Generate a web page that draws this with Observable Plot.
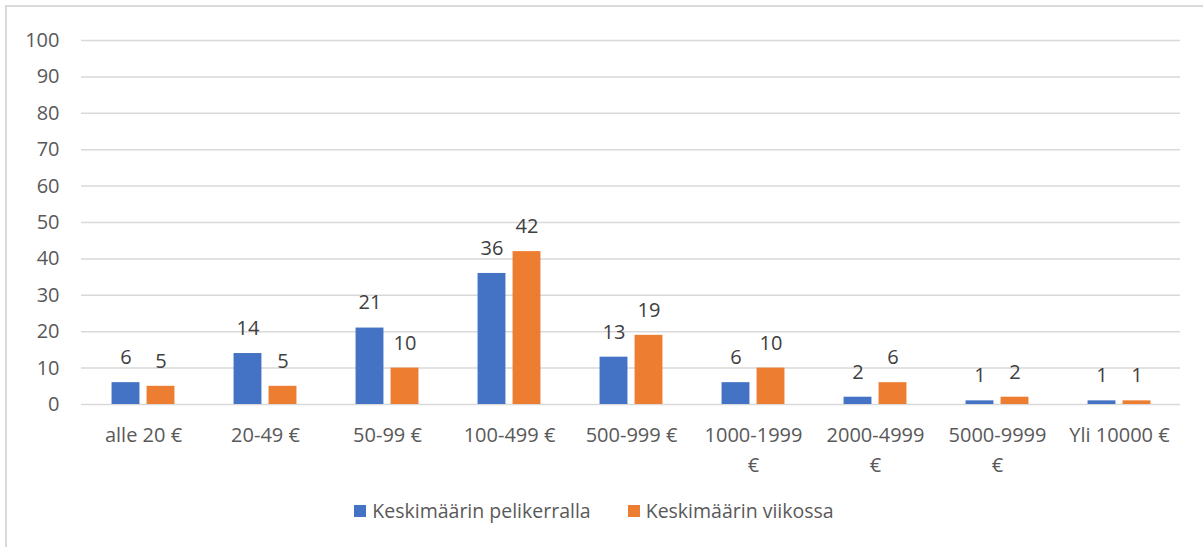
<!DOCTYPE html>
<html>
<head>
<meta charset="utf-8">
<script src="https://cdn.jsdelivr.net/npm/d3@7"></script>
<script src="https://cdn.jsdelivr.net/npm/@observablehq/plot@0.6"></script>
<style>
  html, body { margin: 0; padding: 0; background: #fff; overflow: hidden; }
  #wrap { position: relative; width: 1203px; height: 547px; overflow: hidden; font-family: "Open Sans", sans-serif; }
  #frame { position: absolute; left: 5px; top: 5px; width: 1300px; height: 700px; border: 2px solid #d9d9d9; box-sizing: border-box; }
  #chart { position: absolute; left: 0; top: 0; }
  #legend { position: absolute; left: 0; top: 497px; width: 1188px; display: flex; justify-content: center; gap: 37px; font-size: 19.5px; color: #595959; }
  .item { display: flex; align-items: center; gap: 6px; }
  .sw { width: 12px; height: 12px; display: inline-block; }
</style>
</head>
<body>
<div id="wrap">
  <div id="frame"></div>
  <div id="chart"></div>
  <div id="legend"></div>
</div>
<script>
const categories = ["alle 20 €", "20-49 €", "50-99 €", "100-499 €", "500-999 €", "1000-1999 €", "2000-4999 €", "5000-9999 €", "Yli 10000 €"];
const tickLabels = ["alle 20 €", "20-49 €", "50-99 €", "100-499 €", "500-999 €", "1000-1999\n€", "2000-4999\n€", "5000-9999\n€", "Yli 10000 €"];
const series = ["Keskimäärin pelikerralla", "Keskimäärin viikossa"];
const perSession = [6, 14, 21, 36, 13, 6, 2, 1, 1];
const perWeek = [5, 5, 10, 42, 19, 10, 6, 2, 1];
const colors = ["#4472C4", "#ED7D31"];
const yTicks = [0, 10, 20, 30, 40, 50, 60, 70, 80, 90, 100];

const dataA = categories.map((c, i) => ({cat: c, series: series[0], value: perSession[i]}));
const dataB = categories.map((c, i) => ({cat: c, series: series[1], value: perWeek[i]}));

const W = 1203, H = 490, mL = 81, mR = 23, mT = 40, mB = 86;
const band = (W - mL - mR) / categories.length;
const barW = 28, gap = 7;
const outer = (band - 2 * barW - gap) / 2;
const off = (barW + gap) / 2;

const chart = Plot.plot({
  width: W,
  height: H,
  marginLeft: mL,
  marginRight: mR,
  marginTop: mT,
  marginBottom: mB,
  style: {fontFamily: "Open Sans, sans-serif", fontSize: "20px", color: "#595959", background: "transparent"},
  x: {domain: categories, padding: 0},
  y: {domain: [0, 100]},
  color: {domain: series, range: colors},
  marks: [
    Plot.gridY(yTicks, {stroke: "#d9d9d9", strokeOpacity: 1, strokeWidth: 1.5}),
    Plot.barY(dataA, {x: "cat", y: "value", fill: "series", insetLeft: outer, insetRight: band - outer - barW}),
    Plot.barY(dataB, {x: "cat", y: "value", fill: "series", insetLeft: outer + barW + gap, insetRight: outer}),
    Plot.text(dataA, {x: "cat", y: "value", text: d => String(d.value), dx: -off, dy: -25, fill: "#404040", fontSize: 20, lineAnchor: "middle"}),
    Plot.text(dataB, {x: "cat", y: "value", text: d => String(d.value), dx: off, dy: -25, fill: "#404040", fontSize: 20, lineAnchor: "middle"}),
    Plot.axisY({ticks: yTicks, tickSize: 0, tickPadding: 22, fontSize: 20, label: null}),
    Plot.axisX({tickSize: 0, tickPadding: 16, fontSize: 20, label: null, lineHeight: 1.5,
      tickFormat: d => tickLabels[categories.indexOf(d)]})
  ]
});
document.getElementById("chart").appendChild(chart);

const legend = document.getElementById("legend");
series.forEach((s, i) => {
  const item = document.createElement("div");
  item.className = "item";
  const sw = document.createElement("span");
  sw.className = "sw";
  sw.style.background = colors[i];
  const t = document.createElement("span");
  t.textContent = s;
  item.appendChild(sw);
  item.appendChild(t);
  legend.appendChild(item);
});
</script>
</body>
</html>
